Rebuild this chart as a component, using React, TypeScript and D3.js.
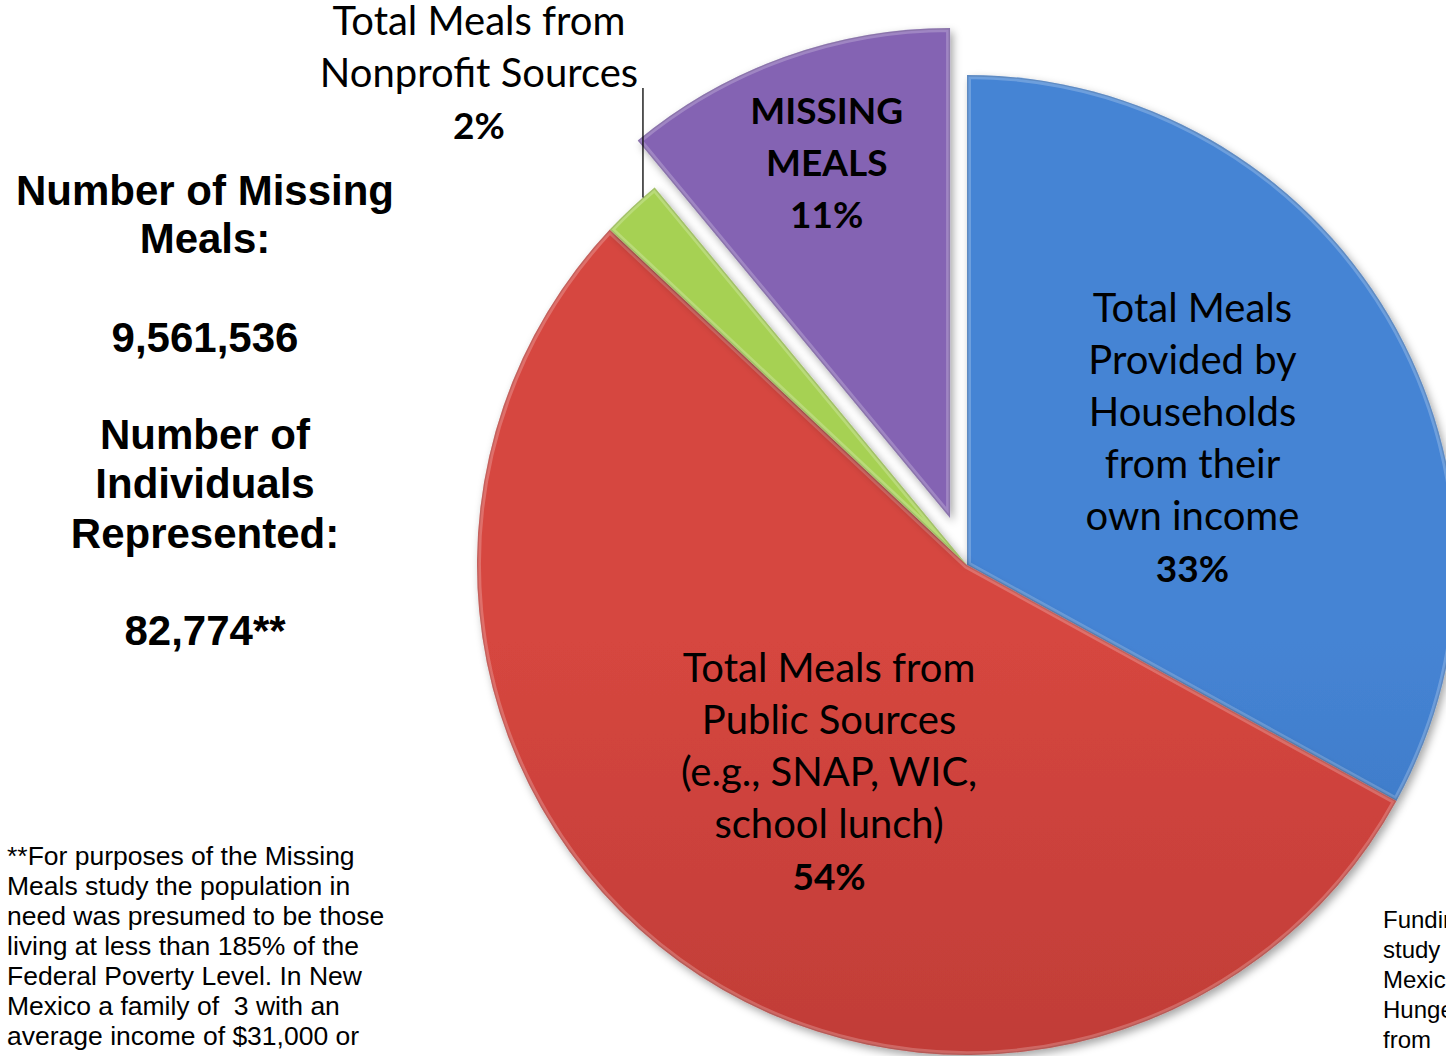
import React from "react";
import * as d3 from "d3";

const categories = ["Households", "Public", "Nonprofit", "Missing"];
const values = [33, 54, 2, 11];
const colorsTop = ["#4584d4", "#d6463f", "#a6d152", "#8464b3"];
const colorsBottom = ["#2b5b9e", "#a3312e", "#86b232", "#634597"];
const labelLines = [
  ["Total Meals", "Provided by", "Households", "from their", "own income"],
  ["Total Meals from", "Public Sources", "(e.g., SNAP, WIC,", "school lunch)"],
  ["Total Meals from", "Nonprofit Sources"],
  ["MISSING", "MEALS"],
];
const leftLines = [
  { t: "Number of Missing", y: 205 },
  { t: "Meals:", y: 253 },
  { t: "9,561,536", y: 352 },
  { t: "Number of", y: 449 },
  { t: "Individuals", y: 498 },
  { t: "Represented:", y: 548 },
  { t: "82,774**", y: 645 },
];
const footnote = [
  "**For purposes of the Missing",
  "Meals study the population in",
  "need was presumed to be those",
  "living at less than 185% of the",
  "Federal Poverty Level. In New",
  "Mexico a family of  3 with an",
  "average income of $31,000 or",
];
const rightNote = ["Funding for this", "study was", "Mexico", "Hunger", "from"];

const W = 1446;
const H = 1056;
const cx = 967;
const cy = 565;
const R = 490;

export default function App() {
  const pie = d3
    .pie<number>()
    .sort(null)
    .value((d) => d)
    .startAngle(0)
    .endAngle(2 * Math.PI);
  const arcs = pie(values);
  const arc = d3.arc<d3.PieArcDatum<number>>().innerRadius(0).outerRadius(R);
  const explode = [0, 0, 0, 50];
  const labelR = [255, 250, 0, 370];
  const labelShift = [
    [6, 5],
    [9, 7],
    [0, 0],
    [2, -6],
  ];

  const offset = (a: d3.PieArcDatum<number>, i: number) => {
    const m = (a.startAngle + a.endAngle) / 2;
    return [Math.sin(m) * explode[i], -Math.cos(m) * explode[i]];
  };
  const pos = (a: d3.PieArcDatum<number>, r: number) => {
    const m = (a.startAngle + a.endAngle) / 2;
    return [Math.sin(m) * r, -Math.cos(m) * r];
  };

  const calibri = "Lato, 'Open Sans', sans-serif";
  const arial = "'Liberation Sans', Arial, sans-serif";
  const lh = 52;

  const g = arcs[2];
  const leaderAngle = g.startAngle + (g.endAngle - g.startAngle) * 0.75;
  const lx = cx + Math.sin(leaderAngle) * R;
  const ly = cy - Math.cos(leaderAngle) * R;

  return (
    <svg
      width={W}
      height={H}
      style={{ position: "absolute", left: 0, top: 0, background: "#fff" }}
    >
      <defs>
        {categories.map((c, i) => (
          <linearGradient
            key={c}
            id={`grad${i}`}
            gradientUnits="userSpaceOnUse"
            x1={0}
            y1={cy - R}
            x2={0}
            y2={cy + R}
          >
            <stop offset="0%" stopColor={colorsTop[i]} />
            <stop offset="100%" stopColor={colorsBottom[i]} />
          </linearGradient>
        ))}
        <filter id="shadow" x="-10%" y="-10%" width="130%" height="130%">
          <feDropShadow dx="3" dy="4" stdDeviation="4" floodColor="#000" floodOpacity="0.35" />
        </filter>
        {arcs.map((a, i) => (
          <clipPath key={i} id={`clip${i}`}>
            <path d={arc(a) || ""} />
          </clipPath>
        ))}
      </defs>

      {leftLines.map((l) => (
        <text
          key={l.t}
          x={205}
          y={l.y}
          textAnchor="middle"
          fontFamily={arial}
          fontWeight="bold"
          fontSize={42}
          fill="#000"
        >
          {l.t}
        </text>
      ))}
      {footnote.map((t, i) => (
        <text
          key={t}
          x={7}
          y={865 + i * 30}
          fontFamily={arial}
          fontSize={26.5}
          fill="#000"
          style={{ whiteSpace: "pre" }}
        >
          {t}
        </text>
      ))}
      {rightNote.map((t, i) => (
        <text key={t} x={1383} y={928 + i * 30} fontFamily={arial} fontSize={24} fill="#000">
          {t}
        </text>
      ))}

      {arcs.map((a, i) => {
        const [ox, oy] = offset(a, i);
        return (
          <g key={categories[i]} transform={`translate(${cx + ox},${cy + oy})`}>
            <path d={arc(a) || ""} fill={`url(#grad${i})`} filter="url(#shadow)" />
            <g clipPath={`url(#clip${i})`}>
              <path
                d={arc(a) || ""}
                fill="none"
                stroke="#ffffff"
                strokeOpacity={0.22}
                strokeWidth={8}
              />
              <path
                d={arc(a) || ""}
                fill="none"
                stroke="#000000"
                strokeOpacity={0.12}
                strokeWidth={3}
              />
            </g>
          </g>
        );
      })}

      {arcs.map((a, i) => {
        if (i === 2) return null;
        const [ox, oy] = offset(a, i);
        const [px, py] = pos(a, labelR[i]);
        const lines = labelLines[i];
        const bold = i === 3;
        const n = lines.length + 1;
        const x = cx + ox + px + labelShift[i][0];
        const top = cy + oy + py - ((n - 1) * lh) / 2 + 12 + labelShift[i][1];
        return (
          <g key={`lab${i}`}>
            {lines.map((t, j) => (
              <text
                key={t}
                x={x}
                y={top + j * lh}
                textAnchor="middle"
                fontFamily={calibri}
                fontWeight={bold ? "bold" : "normal"}
                fontSize={bold ? 37 : 40}
                fill="#000"
              >
                {t}
              </text>
            ))}
            <text
              x={x}
              y={top + lines.length * lh}
              textAnchor="middle"
              fontFamily={calibri}
              fontWeight="bold"
              fontSize={37}
              fill="#000"
            >
              {`${a.data}%`}
            </text>
          </g>
        );
      })}

      <line x1={lx} y1={ly} x2={lx} y2={88} stroke="#000" strokeWidth={1.3} />
      {labelLines[2].map((t, j) => (
        <text
          key={t}
          x={479}
          y={35 + j * lh}
          textAnchor="middle"
          fontFamily={calibri}
          fontSize={40}
          fill="#000"
        >
          {t}
        </text>
      ))}
      <text
        x={479}
        y={35 + 2 * lh}
        textAnchor="middle"
        fontFamily={calibri}
        fontWeight="bold"
        fontSize={37}
        fill="#000"
      >
        {`${values[2]}%`}
      </text>
    </svg>
  );
}
